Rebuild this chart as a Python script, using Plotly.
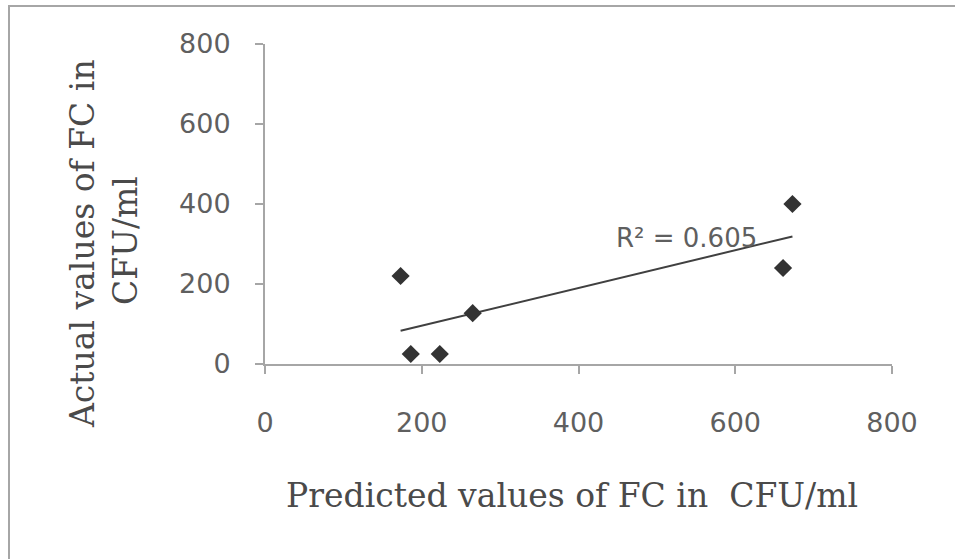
import numpy as np
import plotly.graph_objects as go

# Data
predicted = [173, 186, 223, 265, 661, 673]
actual = [220, 25, 25, 127, 240, 400]
x_ticks = [0, 200, 400, 600, 800]
y_ticks = [0, 200, 400, 600, 800]
r2_label = "R² = 0.605"
x_title = "Predicted values of FC in  CFU/ml"
y_title_lines = ["Actual values of FC in", "CFU/ml"]

# Linear trendline computed from the data
slope, intercept = np.polyfit(predicted, actual, 1)
tx = [min(predicted), max(predicted)]
ty = [slope * v + intercept for v in tx]

W, H = 955, 559
L, R, T, B = 265, 63, 44, 195
pw, ph = W - L - R, H - T - B

def px_to_paper_x(px):
    return (px - L) / pw

def px_to_paper_y(py):
    return (H - B - py) / ph

fig = go.Figure()
fig.add_trace(go.Scatter(x=tx, y=ty, mode="lines",
                         line=dict(color="#404040", width=2),
                         hoverinfo="skip", showlegend=False))
fig.add_trace(go.Scatter(x=predicted, y=actual, mode="markers",
                         marker=dict(symbol="diamond", size=14, color="#333333"),
                         showlegend=False))

axis_common = dict(showgrid=False, zeroline=False, showline=True,
                   linecolor="#a6a6a6", linewidth=2, ticks="outside",
                   ticklen=8, tickwidth=2, tickcolor="#a6a6a6",
                   tickfont=dict(family="DejaVu Sans", size=27, color="#5f5f5f"),
                   range=[0, 800], tickvals=x_ticks, fixedrange=True)

serif = dict(family="DejaVu Serif", size=33, color="#4a4a4a")

fig.update_layout(
    width=W, height=H,
    margin=dict(l=L, r=R, t=T, b=B, pad=0),
    paper_bgcolor="white", plot_bgcolor="white",
    xaxis=dict(**axis_common, ticklabelstandoff=26),
    yaxis=dict(**{**axis_common, "tickvals": y_ticks}, ticklabelstandoff=19),
    shapes=[dict(type="rect", xref="paper", yref="paper",
                 x0=px_to_paper_x(9), x1=px_to_paper_x(1000),
                 y0=px_to_paper_y(700), y1=px_to_paper_y(6),
                 line=dict(color="#a6a6a6", width=2), fillcolor="rgba(0,0,0,0)",
                 layer="below")],
    annotations=[
        dict(text=r2_label, x=px_to_paper_x(686), y=px_to_paper_y(238),
             xref="paper", yref="paper", showarrow=False,
             xanchor="center", yanchor="middle",
             font=dict(family="DejaVu Sans", size=26, color="#5f5f5f")),
        dict(text=x_title, x=px_to_paper_x(572), y=px_to_paper_y(495),
             xref="paper", yref="paper", showarrow=False,
             xanchor="center", yanchor="middle", font=serif),
        dict(text=y_title_lines[0], x=px_to_paper_x(82), y=px_to_paper_y(243),
             xref="paper", yref="paper", showarrow=False, textangle=-90,
             xanchor="center", yanchor="middle", font=serif),
        dict(text=y_title_lines[1], x=px_to_paper_x(125), y=px_to_paper_y(241),
             xref="paper", yref="paper", showarrow=False, textangle=-90,
             xanchor="center", yanchor="middle", font=serif),
    ],
)

fig.write_html("out.html")
